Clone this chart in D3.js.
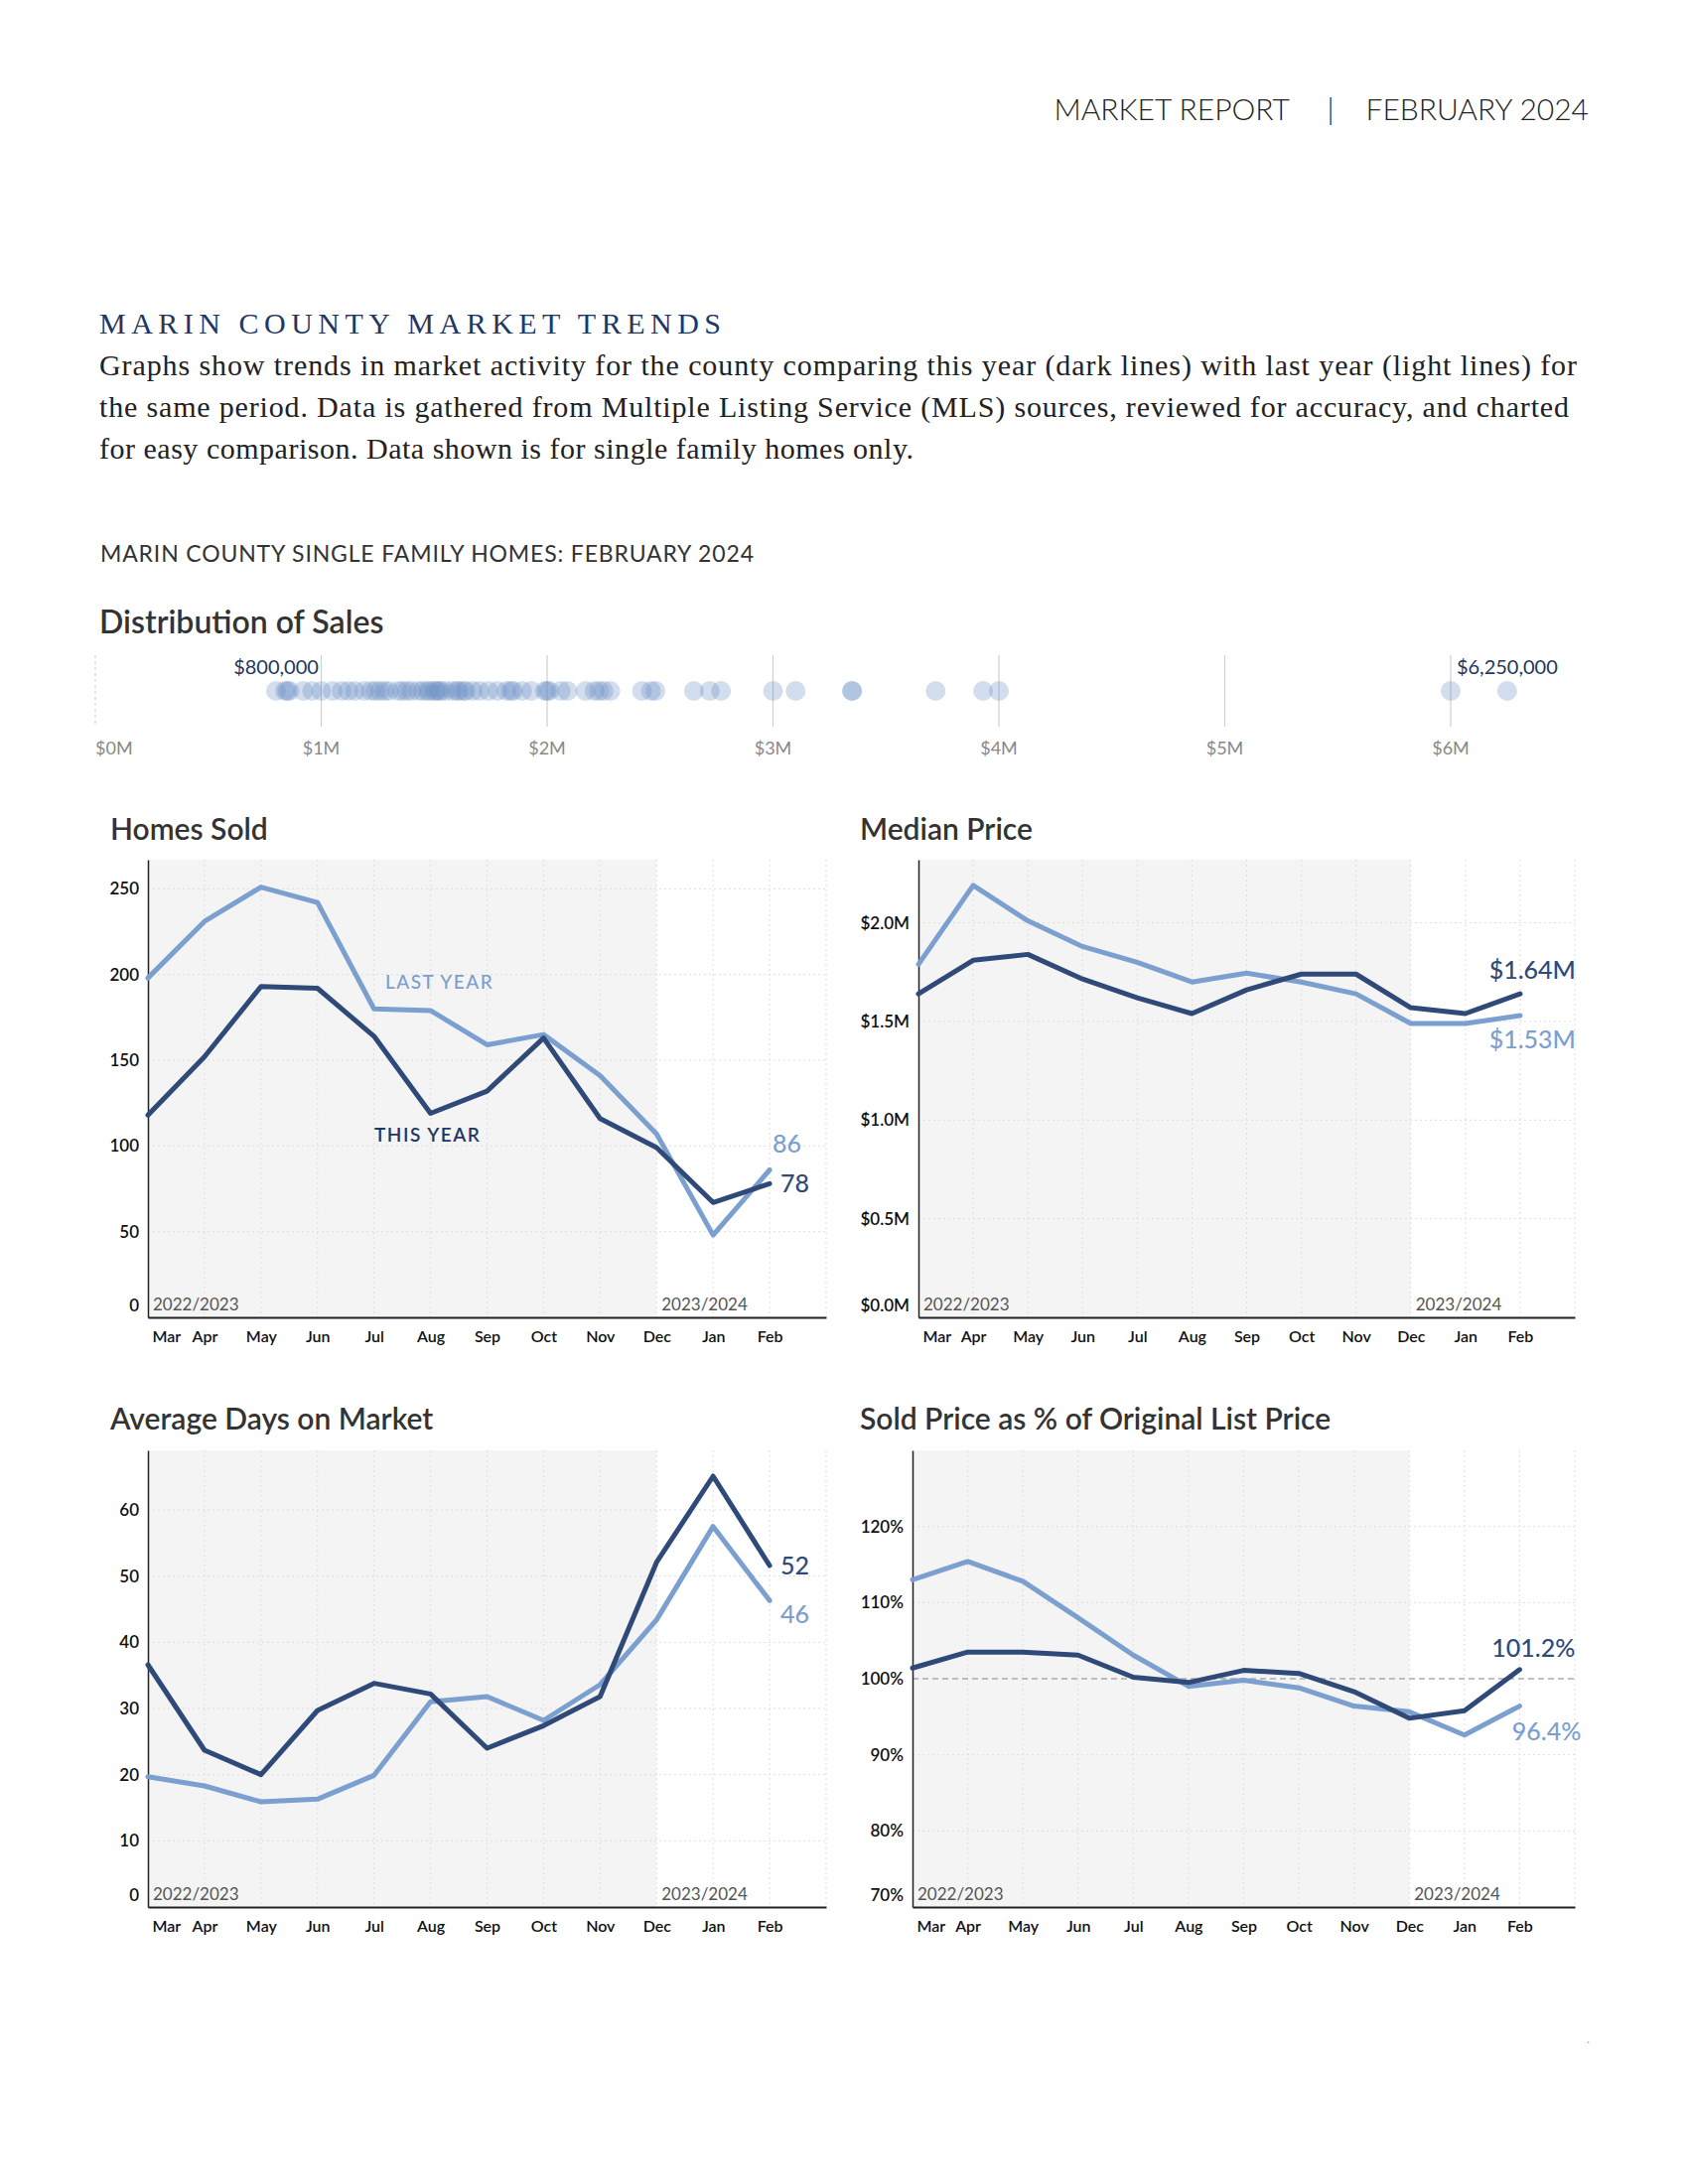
<!DOCTYPE html>
<html>
<head>
<meta charset="utf-8">
<script src="https://cdn.jsdelivr.net/npm/d3@7"></script>
<style>
  body { margin: 0; background: #fff; }
  svg text { font-family: Lato, "Open Sans", sans-serif; }
</style>
</head>
<body>
<div id="page"></div>
<script>
// month labels shared by all four line charts
var months = ["Mar", "Apr", "May", "Jun", "Jul", "Aug", "Sep", "Oct", "Nov", "Dec", "Jan", "Feb"];

// Homes Sold
var homesThisYear = [118, 152, 193, 192, 164, 119, 132, 163, 116, 99, 67, 78];
var homesLastYear = [198, 231, 251, 242, 180, 179, 159, 165, 141, 107, 48, 86];
var homesTicks = [0, 50, 100, 150, 200, 250];

// Median Price ($M)
var priceThisYear = [1.64, 1.81, 1.84, 1.715, 1.62, 1.54, 1.66, 1.74, 1.74, 1.57, 1.54, 1.64];
var priceLastYear = [1.79, 2.19, 2.01, 1.88, 1.80, 1.70, 1.745, 1.70, 1.64, 1.49, 1.49, 1.53];
var priceTicks = [0, 0.5, 1.0, 1.5, 2.0];

// Average Days on Market
var domThisYear = [36.6, 23.7, 20, 29.7, 33.8, 32.2, 24, 27.4, 31.8, 52.1, 65.1, 51.6];
var domLastYear = [19.7, 18.3, 15.9, 16.3, 19.9, 31, 31.8, 28.2, 33.6, 43.4, 57.5, 46.3];
var domTicks = [0, 10, 20, 30, 40, 50, 60];

// Sold Price as % of Original List Price
var pctThisYear = [101.4, 103.5, 103.5, 103.1, 100.2, 99.5, 101.1, 100.7, 98.3, 94.8, 95.8, 101.2];
var pctLastYear = [113.0, 115.4, 112.8, 108.0, 103.1, 99.0, 99.8, 98.8, 96.4, 95.65, 92.6, 96.4];
var pctTicks = [70, 80, 90, 100, 110, 120];

// Distribution of Sales, individual sale prices ($M)
var salePrices = [0.80, 0.84, 0.85, 0.86, 0.92, 0.96, 1.00, 1.05, 1.09, 1.12, 1.15, 1.19,
  1.22, 1.24, 1.26, 1.28, 1.30, 1.34, 1.36, 1.38, 1.40, 1.43, 1.45, 1.47, 1.48, 1.50,
  1.51, 1.52, 1.53, 1.55, 1.58, 1.60, 1.61, 1.63, 1.64, 1.67, 1.70, 1.74, 1.78, 1.82,
  1.84, 1.85, 1.89, 1.93, 1.99, 2.00, 2.01, 2.06, 2.09, 2.17, 2.21, 2.23, 2.25, 2.28,
  2.42, 2.46, 2.48, 2.65, 2.72, 2.77, 3.00, 3.10, 3.35, 3.35, 3.72, 3.93, 4.00, 6.00, 6.25];
var distTicks = [0, 1, 2, 3, 4, 5, 6];

var paragraph = [
  "Graphs show trends in market activity for the county comparing this year (dark lines) with last year (light lines) for",
  "the same period. Data is gathered from Multiple Listing Service (MLS) sources, reviewed for accuracy, and charted",
  "for easy comparison. Data shown is for single family homes only."
];

var svgWidth = 1700;
var svgHeight = 2200;
var darkColor = "#2f4a78";
var lightColor = "#7b9fce";
var navy = "#1e3763";

var svg = d3.select("#page")
  .append("svg")
  .attr("width", svgWidth)
  .attr("height", svgHeight);

// ---- header ----
var header = svg.append("g")
  .style("font-size", "30px")
  .style("font-weight", 300)
  .attr("fill", "#222");
header.append("text").attr("x", 1299).attr("y", 121).attr("text-anchor", "end").text("MARKET REPORT");
header.append("text").attr("x", 1340).attr("y", 121).attr("text-anchor", "middle").text("|");
header.append("text").attr("x", 1600).attr("y", 121).attr("text-anchor", "end").text("FEBRUARY 2024");

svg.append("text")
  .attr("x", 100)
  .attr("y", 336)
  .attr("textLength", 626)
  .attr("lengthAdjust", "spacing")
  .style("font-family", "'Liberation Serif', 'DejaVu Serif', serif")
  .style("font-size", "30px")
  .attr("fill", navy)
  .text("MARIN COUNTY MARKET TRENDS");

svg.append("g")
  .selectAll("text")
  .data(paragraph)
  .enter()
  .append("text")
  .attr("x", 100)
  .attr("y", (d, i) => 378 + i * 42)
  .attr("textLength", (d, i) => i == 0 ? 1488 : (i == 1 ? 1480 : 820))
  .attr("lengthAdjust", "spacing")
  .style("font-family", "'Liberation Serif', 'DejaVu Serif', serif")
  .style("font-size", "30px")
  .attr("fill", "#222")
  .text(d => d);

svg.append("text")
  .attr("x", 101)
  .attr("y", 566)
  .attr("textLength", 658)
  .attr("lengthAdjust", "spacing")
  .style("font-size", "23px")
  .style("font-weight", 400)
  .attr("fill", "#333")
  .text("MARIN COUNTY SINGLE FAMILY HOMES: FEBRUARY 2024");

// ---- distribution of sales ----
svg.append("text")
  .attr("x", 100)
  .attr("y", 638)
  .style("font-size", "32px")
  .style("font-weight", 600)
  .attr("fill", "#333")
  .text("Distribution of Sales");

var distX = d3.scaleLinear().domain([0, 6]).range([96, 1461]);
var dist = svg.append("g");

dist.selectAll("line")
  .data(distTicks)
  .enter()
  .append("line")
  .attr("x1", d => distX(d))
  .attr("x2", d => distX(d))
  .attr("y1", 660)
  .attr("y2", 732)
  .attr("stroke", d => d == 0 ? "#d6d6d6" : "#cfcfcf")
  .attr("stroke-dasharray", d => d == 0 ? "3,3" : null)
  .attr("stroke-width", 1.2);

dist.selectAll(".dist-label")
  .data(distTicks)
  .enter()
  .append("text")
  .attr("class", "dist-label")
  .attr("x", d => distX(d))
  .attr("y", 760)
  .attr("text-anchor", d => d == 0 ? "start" : "middle")
  .style("font-size", "18px")
  .attr("fill", "#888")
  .text(d => "$" + d + "M");

dist.selectAll("circle")
  .data(salePrices)
  .enter()
  .append("circle")
  .attr("cx", d => distX(d))
  .attr("cy", 696)
  .attr("r", 10)
  .attr("fill", "#6a8fc4")
  .attr("opacity", 0.3);

var moneyFmt = d3.format("$,");
var minSale = d3.min(salePrices);
var maxSale = d3.max(salePrices);
dist.append("text")
  .attr("x", distX(minSale))
  .attr("y", 679)
  .attr("text-anchor", "middle")
  .style("font-size", "20px")
  .attr("fill", navy)
  .text(moneyFmt(Math.round(minSale * 1e6)));
dist.append("text")
  .attr("x", distX(maxSale))
  .attr("y", 679)
  .attr("text-anchor", "middle")
  .style("font-size", "20px")
  .attr("fill", navy)
  .text(moneyFmt(Math.round(maxSale * 1e6)));

// ---- line charts ----
var charts = [
  {
    title: "Homes Sold", titleX: 111, titleY: 846,
    left: 149, right: 832, top: 866, bottom: 1327,
    yDomain: [0, 267], ticks: homesTicks, fmt: d => d,
    thisYear: homesThisYear, lastYear: homesLastYear,
    endFmt: d => Math.round(d),
    endThis: { dx: 11, dy: 0, anchor: "start" },
    endLast: { dx: 3, dy: -26, anchor: "start" }
  },
  {
    title: "Median Price", titleX: 866, titleY: 846,
    left: 925, right: 1586, top: 866, bottom: 1327,
    yDomain: [0, 2.32], ticks: priceTicks, fmt: d => "$" + d.toFixed(1) + "M",
    thisYear: priceThisYear, lastYear: priceLastYear,
    endFmt: d => "$" + d.toFixed(2) + "M",
    endThis: { dx: 56, dy: -24, anchor: "end" },
    endLast: { dx: 56, dy: 24, anchor: "end" }
  },
  {
    title: "Average Days on Market", titleX: 111, titleY: 1440,
    left: 149, right: 832, top: 1461, bottom: 1921,
    yDomain: [0, 69], ticks: domTicks, fmt: d => d,
    thisYear: domThisYear, lastYear: domLastYear,
    endFmt: d => Math.round(d),
    endThis: { dx: 11, dy: 0, anchor: "start" },
    endLast: { dx: 11, dy: 14, anchor: "start" }
  },
  {
    title: "Sold Price as % of Original List Price", titleX: 866, titleY: 1440,
    left: 919, right: 1586, top: 1461, bottom: 1921,
    yDomain: [70, 130], ticks: pctTicks, fmt: d => d + "%",
    thisYear: pctThisYear, lastYear: pctLastYear,
    endFmt: d => d.toFixed(1) + "%",
    endThis: { dx: 56, dy: -22, anchor: "end" },
    endLast: { dx: 62, dy: 26, anchor: "end" },
    refLine: 100
  }
];

charts.forEach(function(c, ci) {
  var g = svg.append("g");

  var x = d3.scaleLinear().domain([0, 12]).range([c.left, c.right]);
  var y = d3.scaleLinear().domain(c.yDomain).range([c.bottom, c.top]);

  g.append("text")
    .attr("x", c.titleX)
    .attr("y", c.titleY)
    .style("font-size", "30px")
    .style("font-weight", 600)
    .attr("fill", "#333")
    .text(c.title);

  // shaded previous-year block (Mar to Dec)
  g.append("rect")
    .attr("x", x(0))
    .attr("y", c.top)
    .attr("width", x(9) - x(0))
    .attr("height", c.bottom - c.top)
    .attr("fill", "#f4f4f4");

  // gridlines
  g.append("g")
    .selectAll("line")
    .data(d3.range(1, 13))
    .enter()
    .append("line")
    .attr("x1", d => x(d))
    .attr("x2", d => x(d))
    .attr("y1", c.top)
    .attr("y2", c.bottom)
    .attr("stroke", "#dedede")
    .attr("stroke-dasharray", "2,3");

  g.append("g")
    .selectAll("line")
    .data(c.ticks.slice(1).filter(d => d !== c.refLine))
    .enter()
    .append("line")
    .attr("x1", c.left)
    .attr("x2", c.right)
    .attr("y1", d => y(d))
    .attr("y2", d => y(d))
    .attr("stroke", "#dedede")
    .attr("stroke-dasharray", "2,3");

  if (c.refLine !== undefined) {
    g.append("line")
      .attr("x1", c.left)
      .attr("x2", c.right)
      .attr("y1", y(c.refLine))
      .attr("y2", y(c.refLine))
      .attr("stroke", "#aaa")
      .attr("stroke-width", 1.5)
      .attr("stroke-dasharray", "6,4");
  }

  // year labels
  g.append("text")
    .attr("x", c.left + 5)
    .attr("y", c.bottom - 7)
    .style("font-size", "17px")
    .attr("fill", "#555")
    .text("2022/2023");
  g.append("text")
    .attr("x", x(9) + 5)
    .attr("y", c.bottom - 7)
    .style("font-size", "17px")
    .attr("fill", "#555")
    .text("2023/2024");

  // axes
  var bottomAxis = d3.axisBottom(x)
    .tickValues(d3.range(12))
    .tickFormat(i => months[i])
    .tickSize(0)
    .tickPadding(14);
  var leftAxis = d3.axisLeft(y)
    .tickValues(c.ticks)
    .tickFormat(c.fmt)
    .tickSize(0)
    .tickPadding(9);

  var xg = g.append("g")
    .attr("transform", `translate(0, ${c.bottom})`)
    .call(bottomAxis);
  xg.select(".domain").attr("stroke", "#222").attr("stroke-width", 2);
  xg.selectAll("text")
    .style("font-size", "16px")
    .style("font-weight", 600)
    .attr("fill", "#111");
  xg.selectAll(".tick text").filter(d => d == 0)
    .attr("text-anchor", "start")
    .attr("dx", 4);

  var yg = g.append("g")
    .attr("transform", `translate(${c.left}, 0)`)
    .call(leftAxis);
  yg.select(".domain").attr("stroke", "#222").attr("stroke-width", 1.5);
  yg.selectAll("text")
    .style("font-size", "17px")
    .style("font-weight", 600)
    .attr("fill", "#111");
  yg.selectAll(".tick text").filter(d => d == c.yDomain[0])
    .attr("y", -12);

  // lines: last year first, this year on top
  var line = d3.line()
    .x((d, i) => x(i))
    .y(d => y(d));

  g.append("path")
    .datum(c.lastYear)
    .attr("d", line)
    .attr("fill", "none")
    .attr("stroke", lightColor)
    .attr("stroke-width", 5)
    .attr("stroke-linejoin", "round")
    .attr("stroke-linecap", "round");

  g.append("path")
    .datum(c.thisYear)
    .attr("d", line)
    .attr("fill", "none")
    .attr("stroke", darkColor)
    .attr("stroke-width", 5)
    .attr("stroke-linejoin", "round")
    .attr("stroke-linecap", "round");

  // end value labels
  var lastI = months.length - 1;
  [[c.thisYear, c.endThis, darkColor], [c.lastYear, c.endLast, lightColor]].forEach(function(s) {
    var v = s[0][lastI];
    g.append("text")
      .attr("x", x(lastI) + s[1].dx)
      .attr("y", y(v) + s[1].dy)
      .attr("dy", "0.35em")
      .attr("text-anchor", s[1].anchor)
      .style("font-size", "25px")
      .style("font-weight", 500)
      .attr("fill", s[2])
      .text(c.endFmt(v));
  });

  // series labels on Homes Sold only
  if (ci == 0) {
    g.append("text")
      .attr("x", 388)
      .attr("y", 996)
      .style("font-size", "19px")
      .style("font-weight", 500)
      .style("letter-spacing", "1.5px")
      .attr("fill", lightColor)
      .text("LAST YEAR");
    g.append("text")
      .attr("x", 377)
      .attr("y", 1150)
      .style("font-size", "19px")
      .style("font-weight", 600)
      .style("letter-spacing", "1.5px")
      .attr("fill", navy)
      .text("THIS YEAR");
  }
});

svg.append("text")
  .attr("x", 1598)
  .attr("y", 2058)
  .style("font-size", "12px")
  .attr("fill", "#999")
  .text(".");
</script>
</body>
</html>
